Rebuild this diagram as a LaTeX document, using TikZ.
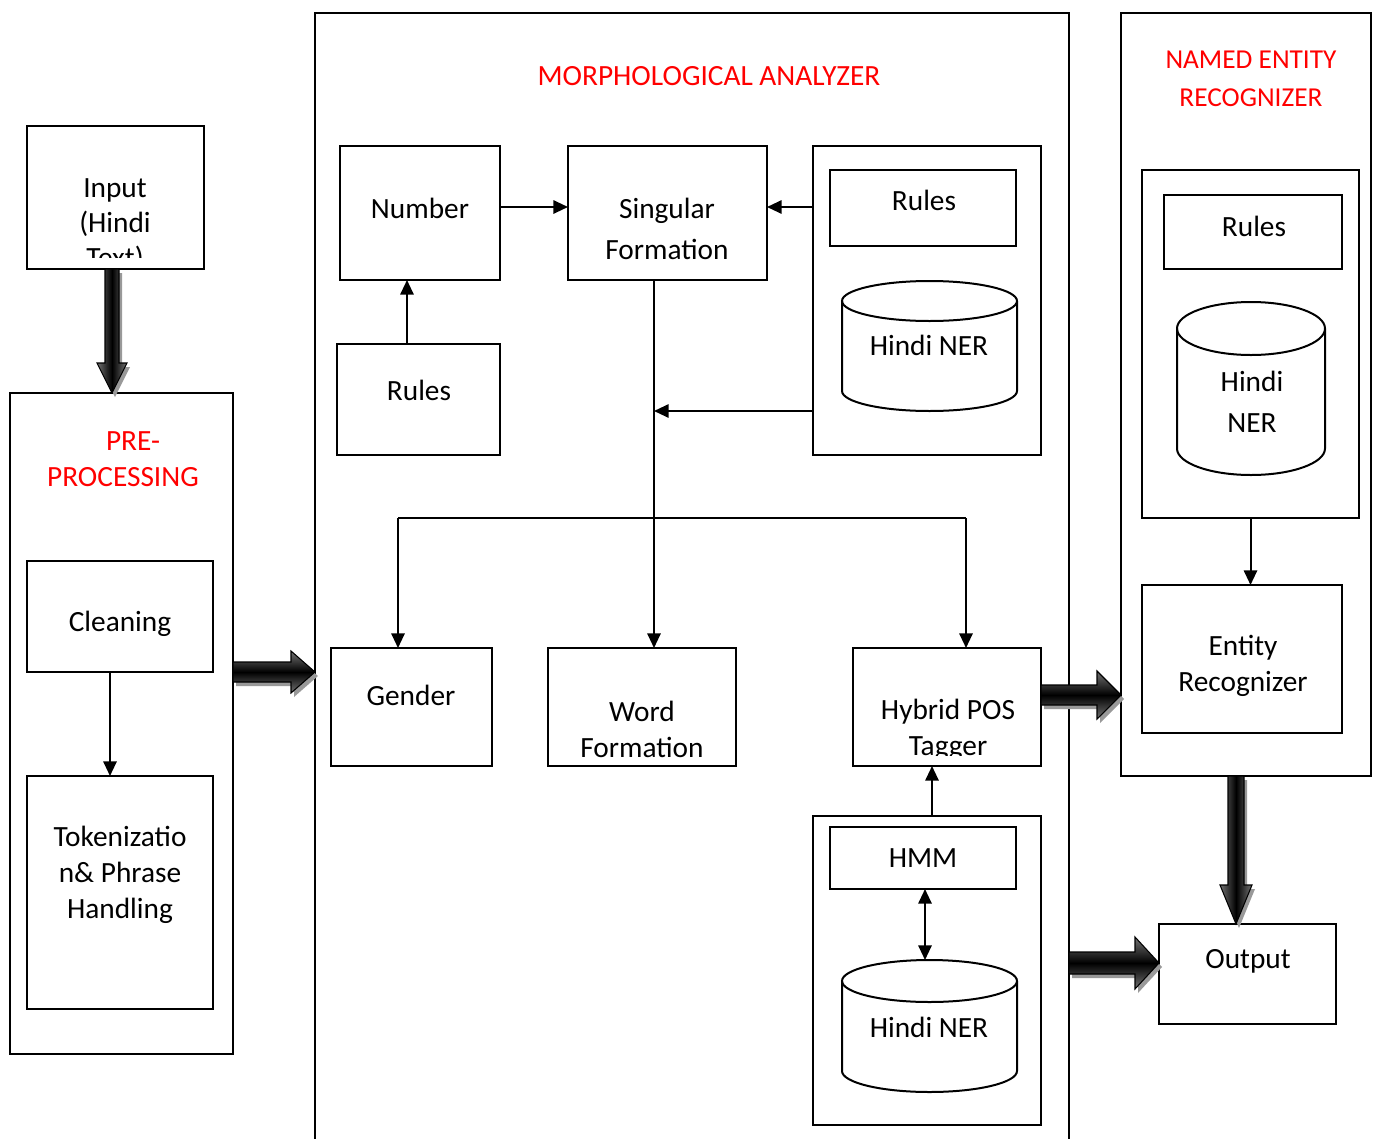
\documentclass[tikz,border=0pt]{standalone}
\usepackage{fontspec}
\setmainfont{Carlito}
\usetikzlibrary{arrows.meta,calc,fit}

\tikzset{
 box/.style={draw, line width=1.5pt, inner sep=0pt, outer sep=0pt, fill=white},
 frame/.style={draw, line width=1.2pt, inner sep=0pt, outer sep=0pt},
 txt/.style={font=\fontsize{22}{27}\selectfont, inner sep=0pt, align=center},
 ttl/.style={txt, text=red},
 arr/.style={line width=1.5pt, -{Triangle[length=11pt,width=10pt]}},
 darr/.style={line width=1.5pt, {Triangle[length=11pt,width=10pt]}-{Triangle[length=11pt,width=10pt]}},
 ln/.style={line width=1.5pt},
 cylline/.style={line width=1.5pt},
 fatshadow/.style={fill=black!40},
 fatHs/.style={draw=black, line width=0.8pt, top color=black!55, bottom color=black!55, middle color=black},
 fatVs/.style={draw=black, line width=0.8pt, left color=black!55, right color=black!55, middle color=black},
}

% right-pointing fat arrow: #1 from, #2 to (same y), #3 half shaft, #4 half head, #5 head length
\newcommand\fatH[5]{%
 \fill[fatshadow] ($(#1)+(3,-#3+4)$) -- ($(#2)+(-#5+3,-#3+4)$) -- ($(#2)+(-#5+3,-#4+4)$) -- ($(#2)+(3,4)$) -- ($(#2)+(-#5+3,#4+4)$) -- ($(#2)+(-#5+3,#3+4)$) -- ($(#1)+(3,#3+4)$) -- cycle;
 \draw[fatHs] ($(#1)+(0,-#3)$) -- ($(#2)+(-#5,-#3)$) -- ($(#2)+(-#5,-#4)$) -- (#2) -- ($(#2)+(-#5,#4)$) -- ($(#2)+(-#5,#3)$) -- ($(#1)+(0,#3)$) -- cycle;}
% downward fat arrow
\newcommand\fatV[5]{%
 \fill[fatshadow] ($(#1)+(-#3+3,4)$) -- ($(#2)+(-#3+3,-#5+4)$) -- ($(#2)+(-#4+3,-#5+4)$) -- ($(#2)+(3,4)$) -- ($(#2)+(#4+3,-#5+4)$) -- ($(#2)+(#3+3,-#5+4)$) -- ($(#1)+(#3+3,4)$) -- cycle;
 \draw[fatVs] ($(#1)+(-#3,0)$) -- ($(#2)+(-#3,-#5)$) -- ($(#2)+(-#4,-#5)$) -- (#2) -- ($(#2)+(#4,-#5)$) -- ($(#2)+(#3,-#5)$) -- ($(#1)+(#3,0)$) -- cycle;}
% cylinder: cx, rx, top centre y, ry, bottom centre y
\newcommand\cyl[5]{%
 \draw[cylline, fill=white] (#1-#2,#3) -- (#1-#2,#5) arc[start angle=180, end angle=0, x radius=#2, y radius=#4] -- (#1+#2,#3);
 \draw[cylline] (#1,#3) ellipse[x radius=#2, y radius=#4];}

\begin{document}
\begin{tikzpicture}[x=0.75pt,y=-0.75pt]
\useasboundingbox (0,0) rectangle (1375,1139);
\clip (0,0) rectangle (1375,1139);

% containers
\node[frame, fit={(10,393) (233,1054)}] (pre) {};
\node[frame, fit={(315,13) (1069,1160)}] (morph) {};
\node[frame, fit={(1121,13) (1371,776)}] (ner) {};
\node[frame, fit={(813,146) (1041,455)}] (grpA) {};
\node[frame, fit={(813,816) (1041,1125)}] (grpB) {};
\node[frame, fit={(1142,170) (1359,518)}] (grpC) {};

% boxes
\node[box, fit={(27,126) (204,269)}] (input) {};
\node[box, fit={(27,561) (213,672)}] (clean) {};
\node[box, fit={(27,776) (213,1009)}] (token) {};
\node[box, fit={(340,146) (500,280)}] (number) {};
\node[box, fit={(568,146) (767,280)}] (singular) {};
\node[box, fit={(337,344) (500,455)}] (rulesM) {};
\node[box, fit={(830,170) (1016,246)}] (rulesA) {};
\node[box, fit={(331,648) (492,766)}] (gender) {};
\node[box, fit={(548,648) (736,766)}] (word) {};
\node[box, fit={(853,648) (1041,766)}] (hybrid) {};
\node[box, fit={(830,827) (1016,889)}] (hmm) {};
\node[box, fit={(1164,195) (1342,269)}] (rulesC) {};
\node[box, fit={(1142,585) (1342,733)}] (entity) {};
\node[box, fit={(1159,924) (1336,1024)}] (output) {};

% cylinders
\cyl{929.5}{87.5}{301}{20}{391}
\cyl{929.5}{87.5}{981}{21}{1071}
\cyl{1251}{74}{328.5}{26.5}{448.5}
\coordinate (cylBtop) at (925,960);

% titles
\node[ttl] (tMorph) at (709,76) {MORPHOLOGICAL ANALYZER};
\node[ttl] (tPre1) at (133,441) {PRE-};
\node[ttl] (tPre2) at (123,477) {PROCESSING};
\node[ttl, font=\fontsize{20.5}{28.5}\selectfont] (tNer) at (1251,79) {NAMED ENTITY\\RECOGNIZER};

% texts
\begin{scope}
\clip (27,126) rectangle (204,257);
\node[txt, font=\fontsize{22}{26.25}\selectfont] (tInput) at (115,225) {Input\\(Hindi\\Text)};
\end{scope}
\node[txt] (tClean) at (120,624) {Cleaning};
\node[txt] (tToken) at (120,875) {Tokenizatio\\n\& Phrase\\Handling};
\node[txt] (tNumber) at (420,208) {Number};
\node[txt, font=\fontsize{22}{30.75}\selectfont] (tSing) at (667,229) {Singular\\Formation};
\node[txt] (tRulesM) at (419,390) {Rules};
\node[txt] (tRulesA) at (924,200) {Rules};
\node[txt] (tCylA) at (929,345) {Hindi NER};
\node[txt] (tGender) at (411,695) {Gender};
\node[txt] (tWord) at (642,729) {Word\\Formation};
\begin{scope}
\clip (853,648) rectangle (1041,755);
\node[txt] (tHybrid) at (948,730) {Hybrid POS\\Tagger};
\end{scope}
\node[txt] (tHMM) at (923,858) {HMM};
\node[txt] (tCylB) at (929,1027) {Hindi NER};
\node[txt] (tRulesC) at (1254,226) {Rules};
\node[txt, font=\fontsize{22}{30.75}\selectfont] (tCylC) at (1252,402) {Hindi\\NER};
\node[txt] (tEntity) at (1243,666) {Entity\\Recognizer};
\node[txt] (tOutput) at (1248,961) {Output};

% connectors
\coordinate (ny) at (0,207);
\coordinate (nx) at (407,0);
\draw[arr] (number.east |- ny) -- (singular.west |- ny);
\draw[arr] (rulesM.north -| nx) -- (number.south -| nx);
\draw[arr] (grpA.west |- ny) -- (singular.east |- ny);
\coordinate (vj) at (654,411);
\draw[arr] (grpA.west |- vj) -- (vj);
\draw[arr] (singular.south -| vj) -- (word.north -| vj);
\coordinate (bl) at (398,518);
\coordinate (br) at (966,518);
\draw[ln] (bl) -- (br);
\draw[arr] (bl) -- (gender.north -| bl);
\draw[arr] (br) -- (hybrid.north -| br);
\coordinate (hx) at (932,0);
\draw[arr] (grpB.north -| hx) -- (hybrid.south -| hx);
\draw[darr] (hmm.south -| cylBtop) -- (cylBtop);
\draw[arr] (grpC.south) -- (entity.north -| grpC.south);
\coordinate (cx) at (110,0);
\draw[arr] (clean.south -| cx) -- (token.north -| cx);

% fat arrows
\coordinate (fa) at (112,0);
\coordinate (fa1) at (input.south -| fa);
\coordinate (fa2) at (pre.north -| fa);
\fatV{fa1}{fa2}{7}{15}{30}
\coordinate (fb1) at (pre.east |- clean.south);
\coordinate (fb2) at (morph.west |- fb1);
\fatH{fb1}{fb2}{10}{21}{24}
\coordinate (fc1) at (hybrid.east |- tGender);
\coordinate (fc2) at (ner.west |- fc1);
\fatH{fc1}{fc2}{10}{24}{24}
\coordinate (fd0) at (0,963);
\coordinate (fd2) at (output.west |- fd0);
\coordinate (fd1) at (morph.east |- fd0);
\fatH{fd1}{fd2}{11}{26}{24}
\coordinate (ex) at (1236,0);
\coordinate (fe1) at (ner.south -| ex);
\coordinate (fe2) at (output.north -| ex);
\fatV{fe1}{fe2}{8}{16}{39}
\end{tikzpicture}
\end{document}
